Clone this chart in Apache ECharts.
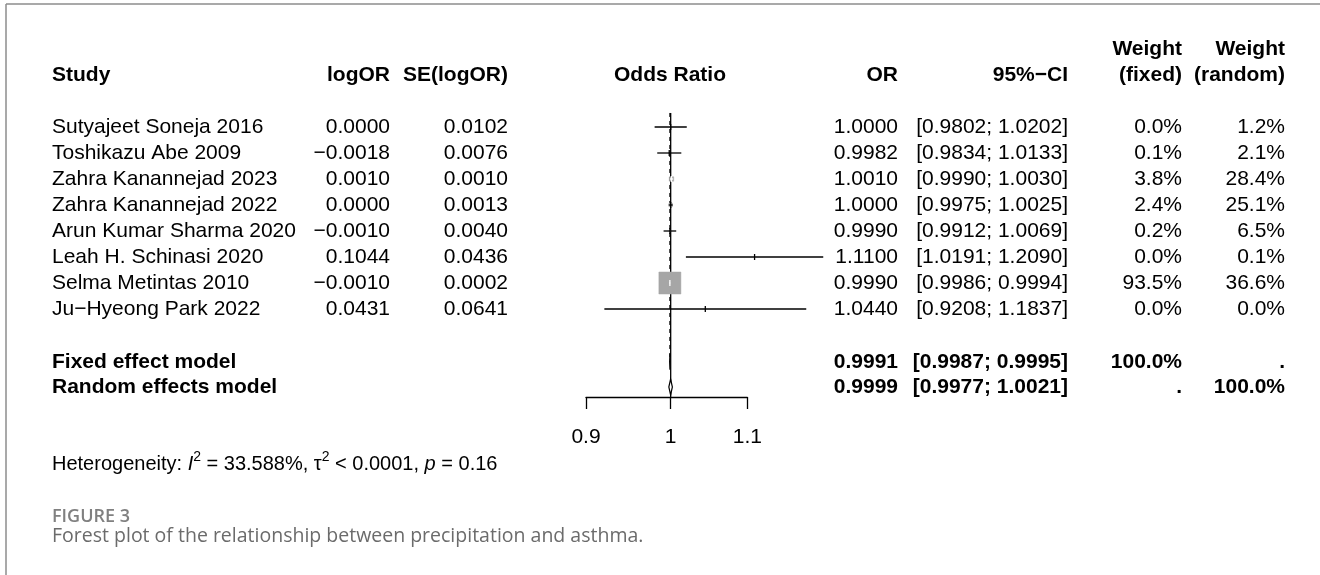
<!DOCTYPE html>
<html><head><meta charset="utf-8">
<script src="https://cdn.jsdelivr.net/npm/echarts@6/dist/echarts.min.js"></script>
<style>html,body{margin:0;padding:0;background:#fff}#c{width:1320px;height:575px}</style>
</head><body><div id="c"></div>
<script>
// ---- data ----
const studies = ['Sutyajeet Soneja 2016','Toshikazu Abe 2009','Zahra Kanannejad 2023','Zahra Kanannejad 2022','Arun Kumar Sharma 2020','Leah H. Schinasi 2020','Selma Metintas 2010','Ju\u2212Hyeong Park 2022'];
const logOR   = [0.0000, -0.0018, 0.0010, 0.0000, -0.0010, 0.1044, -0.0010, 0.0431];
const seLogOR = [0.0102, 0.0076, 0.0010, 0.0013, 0.0040, 0.0436, 0.0002, 0.0641];
const orVal   = [1.0000, 0.9982, 1.0010, 1.0000, 0.9990, 1.1100, 0.9990, 1.0440];
const ciLow   = [0.9802, 0.9834, 0.9990, 0.9975, 0.9912, 1.0191, 0.9986, 0.9208];
const ciHigh  = [1.0202, 1.0133, 1.0030, 1.0025, 1.0069, 1.2090, 0.9994, 1.1837];
const wFixed  = [0.0, 0.1, 3.8, 2.4, 0.2, 0.0, 93.5, 0.0];
const wRandom = [1.2, 2.1, 28.4, 25.1, 6.5, 0.1, 36.6, 0.0];
const modelNames = ['Fixed effect model','Random effects model'];
const modelOR   = [0.9991, 0.9999];
const modelLow  = [0.9987, 0.9977];
const modelHigh = [0.9995, 1.0021];
const modelWFixed  = ['100.0%', '.'];
const modelWRandom = ['.', '100.0%'];
const tickValues = [0.9, 1, 1.1];
const tickLabels = ['0.9', '1', '1.1'];
const hetI2 = '33.588%', hetTau2 = '< 0.0001', hetP = '0.16';
const figLabel = 'FIGURE 3';
const figCaption = 'Forest plot of the relationship between precipitation and asthma.';

// ---- layout ----
const FONT = '"Liberation Sans", Arial, Helvetica, sans-serif';
const FS = 21;
const studyRows = studies.map((s, i) => i);
const modelRows = [9.03, 10];
const col = {name: 52, logOR: 390, se: 508, orc: 670, or: 898, ci: 1068, wf: 1182, wr: 1285};
const fmt4 = v => (v < 0 ? '\u2212' : '') + Math.abs(v).toFixed(4);
const pct = v => v.toFixed(1) + '%';
const ln = Math.log;
const Y_MAX = 270 / 26;

const chart = echarts.init(document.getElementById('c'), null, {renderer: 'canvas'});

function txt(x, y, text, align, bold) {
  return {type: 'text', x: x, y: y, style: {text: text, fill: '#000', font: (bold ? 'bold ' : '') + FS + 'px ' + FONT, textAlign: align, textVerticalAlign: 'middle'}};
}

const tableRows = [];
tableRows.push({kind: 'head1', row: -3});
tableRows.push({kind: 'head', row: -2});
studyRows.forEach(i => tableRows.push({kind: 'study', row: i, i: i}));
modelRows.forEach((r, k) => tableRows.push({kind: 'model', row: r, k: k}));
tableRows.push({kind: 'het', row: 337 / 26});

const option = {
  animation: false,
  grid: {left: 586, right: 1320 - 747.3, top: 23, bottom: 178},
  xAxis: {
    type: 'value', min: ln(tickValues[0]), max: ln(tickValues[2]),
    axisLine: {show: true, onZero: false, lineStyle: {color: '#000', width: 1.3}},
    axisTick: {show: true, length: 12, customValues: tickValues.map(ln), lineStyle: {color: '#000', width: 1.3}},
    axisLabel: {customValues: tickValues.map(ln), margin: 30, fontSize: FS, color: '#000', fontFamily: FONT,
      formatter: v => { let b = 0; tickValues.forEach((t, k) => { if (Math.abs(ln(t) - v) < Math.abs(ln(tickValues[b]) - v)) b = k; }); return tickLabels[b]; }},
    splitLine: {show: false}
  },
  yAxis: {type: 'value', inverse: true, min: -4, max: Y_MAX, show: false},
  graphic: [
    {type: 'line', shape: {x1: 6, y1: 4, x2: 1320, y2: 4}, style: {stroke: '#8c8c8c', lineWidth: 1.5}},
    {type: 'line', shape: {x1: 6, y1: 4, x2: 6, y2: 575}, style: {stroke: '#8c8c8c', lineWidth: 1.5}},
    {type: 'text', x: col.name, y: 517, style: {text: figLabel, fill: '#808080', font: '600 18px "Open Sans", sans-serif', textVerticalAlign: 'middle'}},
    {type: 'text', x: col.name, y: 536, style: {text: figCaption, fill: '#6b6b6b', font: '19.5px "Open Sans", sans-serif', textVerticalAlign: 'middle'}}
  ],
  series: [
    { // reference lines
      type: 'custom', coordinateSystem: 'cartesian2d', clip: false, silent: true,
      data: [[0]],
      renderItem: (p, api) => {
        const top = api.coord([0, -0.54])[1];
        const bot = api.coord([0, Y_MAX])[1];
        const x1 = api.coord([0, 0])[0];
        const xf = api.coord([ln(modelOR[0]), 0])[0];
        const yf = api.coord([0, modelRows[0]])[1];
        return {type: 'group', children: [
          {type: 'line', shape: {x1: x1, y1: top, x2: x1, y2: bot}, style: {stroke: '#000', lineWidth: 1.3}},
          {type: 'line', shape: {x1: xf, y1: top, x2: xf, y2: yf}, style: {stroke: '#000', lineWidth: 1.3, lineDash: [4, 4]}}
        ]};
      }
    },
    { // study squares and CIs
      type: 'custom', coordinateSystem: 'cartesian2d', clip: false, silent: true,
      data: studyRows.map(i => [ln(orVal[i]), i]),
      renderItem: (p, api) => {
        const i = p.dataIndex;
        const c = api.coord([ln(orVal[i]), i]);
        const xl = api.coord([ln(ciLow[i]), i])[0];
        const xh = api.coord([ln(ciHigh[i]), i])[0];
        const s = 22 * Math.sqrt(wFixed[i] / 93.5);
        const inside = (xl >= c[0] - s / 2) && (xh <= c[0] + s / 2);
        const lc = inside ? '#fff' : '#000';
        const ch = [];
        if (s > 0) ch.push({type: 'rect', shape: {x: c[0] - s / 2, y: c[1] - s / 2, width: s, height: s}, style: {fill: '#a6a6a6', stroke: '#a6a6a6', lineWidth: 0.5}});
        ch.push({type: 'line', shape: {x1: xl, y1: c[1], x2: xh, y2: c[1]}, style: {stroke: lc, lineWidth: 1.3}});
        ch.push({type: 'line', shape: {x1: c[0], y1: c[1] - 3, x2: c[0], y2: c[1] + 3}, style: {stroke: lc, lineWidth: 1.3}});
        return {type: 'group', children: ch};
      }
    },
    { // diamonds
      type: 'custom', coordinateSystem: 'cartesian2d', clip: false, silent: true,
      data: modelRows.map((r, k) => [ln(modelOR[k]), r]),
      renderItem: (p, api) => {
        const k = p.dataIndex, r = modelRows[k];
        const c = api.coord([ln(modelOR[k]), r]);
        const xl = api.coord([ln(modelLow[k]), r])[0];
        const xh = api.coord([ln(modelHigh[k]), r])[0];
        return {type: 'polygon', shape: {points: [[xl, c[1]], [c[0], c[1] - 8], [xh, c[1]], [c[0], c[1] + 8]]},
          style: {fill: k === 0 ? '#a6a6a6' : '#fff', stroke: '#000', lineWidth: 1.2}};
      }
    },
    { // table text
      type: 'custom', coordinateSystem: 'cartesian2d', clip: false, silent: true,
      data: tableRows.map(t => [0, t.row]),
      renderItem: (p, api) => {
        const t = tableRows[p.dataIndex];
        const y = api.coord([0, t.row])[1];
        const ch = [];
        if (t.kind === 'head1') {
          ch.push(txt(col.wf, y, 'Weight', 'right', true));
          ch.push(txt(col.wr, y, 'Weight', 'right', true));
        } else if (t.kind === 'head') {
          ch.push(txt(col.name, y, 'Study', 'left', true));
          ch.push(txt(col.logOR, y, 'logOR', 'right', true));
          ch.push(txt(col.se, y, 'SE(logOR)', 'right', true));
          ch.push(txt(col.orc, y, 'Odds Ratio', 'center', true));
          ch.push(txt(col.or, y, 'OR', 'right', true));
          ch.push(txt(col.ci, y, '95%\u2212CI', 'right', true));
          ch.push(txt(col.wf, y, '(fixed)', 'right', true));
          ch.push(txt(col.wr, y, '(random)', 'right', true));
        } else if (t.kind === 'study') {
          const i = t.i;
          ch.push(txt(col.name, y, studies[i], 'left', false));
          ch.push(txt(col.logOR, y, fmt4(logOR[i]), 'right', false));
          ch.push(txt(col.se, y, fmt4(seLogOR[i]), 'right', false));
          ch.push(txt(col.or, y, orVal[i].toFixed(4), 'right', false));
          ch.push(txt(col.ci, y, '[' + ciLow[i].toFixed(4) + '; ' + ciHigh[i].toFixed(4) + ']', 'right', false));
          ch.push(txt(col.wf, y, pct(wFixed[i]), 'right', false));
          ch.push(txt(col.wr, y, pct(wRandom[i]), 'right', false));
        } else if (t.kind === 'model') {
          const k = t.k;
          ch.push(txt(col.name, y, modelNames[k], 'left', true));
          ch.push(txt(col.or, y, modelOR[k].toFixed(4), 'right', true));
          ch.push(txt(col.ci, y, '[' + modelLow[k].toFixed(4) + '; ' + modelHigh[k].toFixed(4) + ']', 'right', true));
          ch.push(txt(col.wf, y, modelWFixed[k], 'right', true));
          ch.push(txt(col.wr, y, modelWRandom[k], 'right', true));
        } else if (t.kind === 'het') {
          ch.push({type: 'text', x: col.name, y: y, style: {
            text: '{n|Heterogeneity: }{i|I}{s|2}{n| = ' + hetI2 + ', \u03c4}{s|2}{n| ' + hetTau2 + ', }{i|p}{n| = ' + hetP + '}',
            textVerticalAlign: 'middle', fill: '#000',
            rich: {
              n: {fontSize: 20, fontFamily: FONT, fill: '#000'},
              i: {fontSize: 20, fontFamily: FONT, fontStyle: 'italic', fill: '#000'},
              s: {fontSize: 14, fontFamily: FONT, fill: '#000', padding: [0, 0, 14, 0]}
            }}});
        }
        return {type: 'group', children: ch};
      }
    }
  ]
};
chart.setOption(option);
</script></body></html>
